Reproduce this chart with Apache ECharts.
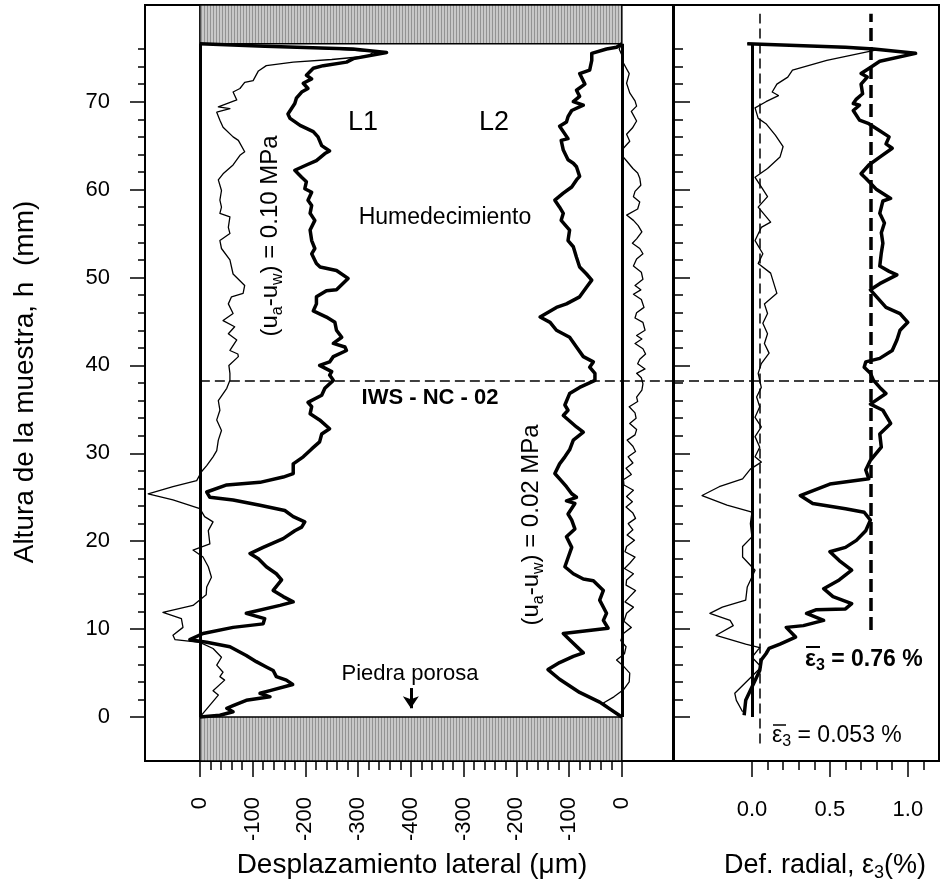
<!DOCTYPE html>
<html>
<head>
<meta charset="utf-8">
<script src="https://cdn.jsdelivr.net/npm/echarts@6/dist/echarts.min.js"></script>
<style>
  html, body { margin: 0; padding: 0; background: #fff; }
  #chart { width: 940px; height: 888px; }
</style>
</head>
<body>
<div id="chart"></div>
<script>
// lateral displacement (um) vs sample height (mm); negative = outward
const l1Thin = [
  [0, 0], [-3, 0.2], [-35, 2.5], [-25, 3.0], [-47, 4.2], [-38, 4.6], [-44, 5.1], [-32, 5.9],
  [-41, 6.8], [-25, 7.8], [0, 8.5], [47, 8.8], [51, 9.3], [32, 10.2], [35, 11.2], [70, 11.9],
  [13, 12.7], [-12, 13.9], [-13, 14.8], [-22, 15.9], [-16, 17.1], [-6, 18.2], [13, 19.0],
  [-19, 19.7], [-16, 21.2], [-25, 22.2], [-9, 22.8], [0, 23.7], [51, 24.7], [98, 25.4],
  [51, 26.2], [6, 26.9], [-3, 27.9], [-13, 28.6], [-25, 29.6], [-32, 30.3], [-35, 31.5],
  [-41, 32.6], [-32, 33.8], [-38, 34.9], [-35, 36.0], [-51, 37.4], [-57, 38.3], [-57, 39.1],
  [-55, 40.0], [-73, 41.0], [-72, 41.3], [-57, 41.7], [-70, 42.9], [-54, 43.6], [-66, 44.4],
  [-44, 45.1], [-63, 45.9], [-54, 47.0], [-60, 47.8], [-82, 48.2], [-85, 49.1], [-63, 50.4],
  [-57, 52.0], [-41, 53.3], [-38, 54.2], [-57, 55.0], [-54, 55.7], [-57, 56.9], [-38, 57.3],
  [-41, 58.0], [-38, 58.8], [-41, 59.9], [-35, 61.1], [-44, 61.8], [-63, 62.8], [-76, 63.9],
  [-85, 64.3], [-73, 65.6], [-63, 66.0], [-44, 67.1], [-38, 67.9], [-32, 68.8], [-57, 69.2],
  [-35, 69.4], [-70, 70.2], [-63, 71.1], [-76, 71.5], [-85, 72.2], [-101, 72.4], [-111, 73.5],
  [-126, 74.1], [-177, 74.5], [-250, 74.8], [-320, 75.2], [-330, 75.7], [-250, 76.0],
  [-123, 76.3], [0, 76.6]
];
const l1Thick = [
  [0, 0], [-38, 0.2], [-63, 0.6], [-51, 1.0], [-63, 1.3], [-88, 1.9], [-133, 2.3], [-114, 2.7],
  [-133, 3.0], [-176, 3.7], [-164, 4.2], [-145, 4.6], [-139, 5.3], [-126, 5.7], [-107, 6.3],
  [-88, 7.0], [-57, 8.0], [-13, 8.5], [19, 8.8], [-6, 9.5], [-63, 10.2], [-120, 10.6],
  [-123, 11.2], [-88, 11.8], [-152, 12.7], [-177, 13.1], [-158, 13.7], [-139, 14.4],
  [-155, 15.6], [-145, 16.3], [-126, 17.1], [-111, 18.0], [-95, 18.6], [-120, 19.3],
  [-158, 20.3], [-180, 21.2], [-193, 21.6], [-199, 22.2], [-177, 22.8], [-161, 23.5],
  [-114, 24.1], [-63, 24.7], [-19, 25.0], [-13, 25.6], [-51, 26.4], [-114, 26.7], [-158, 27.3],
  [-177, 27.7], [-177, 28.8], [-196, 29.6], [-212, 30.5], [-227, 31.3], [-231, 32.2],
  [-246, 32.8], [-227, 33.8], [-209, 34.5], [-212, 35.3], [-205, 35.8], [-231, 36.6],
  [-237, 37.4], [-253, 38.3], [-246, 38.9], [-250, 39.3], [-227, 40.0], [-246, 40.4],
  [-253, 41.0], [-278, 41.7], [-275, 42.1], [-253, 42.5], [-269, 43.2], [-259, 44.0],
  [-256, 44.9], [-240, 45.5], [-215, 46.2], [-221, 47.0], [-221, 47.8], [-240, 48.5],
  [-259, 48.6], [-281, 49.9], [-259, 50.8], [-228, 51.2], [-221, 51.6], [-212, 52.7],
  [-218, 53.3], [-212, 54.2], [-209, 55.4], [-218, 56.5], [-209, 57.3], [-212, 58.2],
  [-205, 58.8], [-212, 59.7], [-199, 60.1], [-202, 60.9], [-193, 61.4], [-180, 62.2],
  [-202, 62.8], [-221, 63.3], [-237, 64.1], [-246, 64.4], [-231, 65.0], [-224, 66.0],
  [-215, 66.6], [-190, 67.3], [-171, 68.1], [-167, 68.6], [-180, 69.8], [-183, 70.4],
  [-193, 71.1], [-205, 71.5], [-196, 72.1], [-212, 72.6], [-202, 73.0], [-215, 73.8],
  [-234, 74.1], [-278, 74.5], [-291, 74.9], [-354, 75.6], [-290, 76.0], [-123, 76.3], [0, 76.6]
];
const l2Thick = [
  [0, 0], [-42, 1.7], [-80, 2.8], [-118, 4.3], [-140, 5.4], [-118, 6.2], [-92, 6.9], [-73, 7.3],
  [-99, 8.8], [-111, 9.5], [-26, 10.1], [-35, 11.0], [-29, 11.8], [-42, 13.3], [-35, 14.4],
  [-54, 15.5], [-73, 15.7], [-92, 16.3], [-108, 17.1], [-95, 19.3], [-105, 20.5], [-89, 21.4],
  [-95, 22.4], [-102, 23.1], [-89, 24.3], [-105, 24.6], [-86, 25.0], [-95, 25.4], [-105, 26.2],
  [-115, 26.9], [-127, 27.7], [-118, 28.8], [-108, 29.6], [-99, 30.4], [-92, 31.5], [-73, 32.4],
  [-86, 33.0], [-111, 34.3], [-102, 34.9], [-108, 35.5], [-99, 36.8], [-80, 37.5], [-51, 38.3],
  [-48, 38.5], [-51, 39.1], [-61, 39.8], [-54, 40.4], [-73, 41.0], [-86, 42.1], [-99, 43.2],
  [-124, 44.0], [-136, 44.9], [-155, 45.5], [-124, 46.6], [-105, 47.0], [-80, 47.8], [-67, 48.9],
  [-57, 49.7], [-67, 50.4], [-80, 51.2], [-86, 52.3], [-92, 53.5], [-102, 54.2], [-99, 55.4],
  [-115, 56.5], [-111, 57.3], [-118, 58.0], [-127, 58.8], [-111, 59.6], [-95, 60.3], [-86, 61.1],
  [-80, 61.5], [-86, 62.6], [-92, 63.0], [-102, 63.4], [-111, 64.5], [-115, 65.6], [-102, 65.8],
  [-118, 67.2], [-105, 67.7], [-102, 68.3], [-95, 69.0], [-73, 69.6], [-92, 70.0], [-80, 70.6],
  [-86, 71.3], [-70, 72.0], [-80, 73.2], [-61, 73.6], [-57, 74.7], [-57, 75.5], [-29, 76.0],
  [-10, 76.2], [0, 76.6]
];
const l2Thin = [
  [0, 0], [-20, 0.8], [-35, 1.6], [-15, 2.3], [3, 3.1], [14, 4.0], [15, 5.0], [3, 5.8], [-10, 6.5],
  [5, 7.2], [8, 8.0], [-2, 8.7], [3, 9.5], [18, 10.2], [4, 10.9], [9, 11.8], [22, 12.5], [6, 13.1],
  [15, 13.7], [26, 14.4], [8, 15.0], [9, 15.6], [22, 16.3], [5, 16.9], [15, 17.5], [25, 18.2],
  [6, 18.8], [9, 19.4], [24, 20.1], [10, 20.7], [21, 21.3], [12, 22.0], [26, 22.6], [21, 23.2],
  [8, 23.9], [20, 24.5], [9, 25.1], [22, 25.8], [4, 26.4], [3, 27.0], [18, 27.6], [8, 28.3],
  [21, 28.9], [12, 29.6], [26, 30.2], [21, 30.8], [10, 31.5], [25, 32.1], [28, 32.7], [15, 33.4],
  [27, 34.0], [25, 34.6], [14, 35.3], [30, 35.9], [28, 36.4], [38, 37.2], [40, 37.9], [37, 38.6],
  [28, 39.1], [44, 39.6], [30, 40.2], [34, 40.7], [45, 41.3], [40, 41.9], [25, 42.5], [38, 43.0],
  [28, 43.4], [44, 44.0], [40, 44.9], [25, 45.4], [28, 46.0], [42, 46.6], [37, 47.5], [22, 48.1],
  [36, 48.6], [25, 49.1], [40, 49.8], [37, 50.6], [22, 51.3], [28, 52.1], [40, 52.7], [34, 53.3],
  [20, 53.9], [28, 54.4], [38, 55.2], [31, 55.9], [22, 56.5], [9, 57.1], [30, 57.8], [34, 58.6],
  [22, 59.2], [25, 59.8], [36, 60.5], [34, 61.3], [30, 61.9], [21, 62.4], [10, 63.2], [0, 63.9],
  [3, 64.7], [15, 65.5], [9, 66.3], [20, 67.0], [28, 67.8], [18, 68.9], [28, 69.5], [25, 70.1],
  [15, 71.0], [9, 72.1], [14, 73.2], [3, 74.4], [0, 75.3], [-5, 76.0], [0, 76.6]
];
// radial strain (%) vs height (mm)
const epsThick = [
  [-0.05, 0.2], [-0.04, 1.9], [0.01, 3.8], [0.05, 5.3], [0.06, 6.5], [0.09, 7.2], [0.11, 7.8],
  [0.18, 8.3], [0.28, 9.1], [0.22, 10.2], [0.33, 10.4], [0.46, 11.0], [0.35, 11.8], [0.41, 12.2],
  [0.60, 12.3], [0.64, 12.9], [0.52, 13.7], [0.46, 14.6], [0.56, 15.6], [0.64, 16.7], [0.56, 17.8],
  [0.50, 18.8], [0.60, 19.3], [0.67, 20.1], [0.73, 21.2], [0.76, 22.4], [0.72, 23.3], [0.60, 23.7],
  [0.39, 24.3], [0.31, 25.2], [0.50, 26.5], [0.75, 27.1], [0.73, 28.1], [0.76, 29.2], [0.83, 30.7],
  [0.82, 32.2], [0.89, 33.4], [0.84, 34.9], [0.76, 35.6], [0.86, 36.8], [0.82, 37.5], [0.78, 38.3],
  [0.76, 39.1], [0.72, 39.8], [0.73, 40.4], [0.82, 40.8], [0.90, 41.7], [0.93, 42.9], [0.95, 44.0],
  [1.00, 44.9], [0.95, 45.9], [0.86, 46.6], [0.80, 47.8], [0.76, 48.6], [0.82, 49.3], [0.93, 50.3],
  [0.88, 50.7], [0.82, 51.3], [0.83, 52.8], [0.84, 53.9], [0.83, 55.1], [0.85, 56.2], [0.82, 57.3],
  [0.84, 58.7], [0.89, 59.0], [0.80, 60.0], [0.73, 61.3], [0.70, 61.8], [0.75, 62.8], [0.82, 63.7],
  [0.90, 64.7], [0.86, 65.2], [0.88, 66.0], [0.81, 66.8], [0.75, 67.5], [0.69, 67.9], [0.65, 69.0],
  [0.69, 69.6], [0.65, 69.8], [0.67, 70.3], [0.71, 70.9], [0.70, 72.0], [0.74, 72.8], [0.70, 73.2],
  [0.76, 73.9], [0.82, 74.6], [1.05, 75.5], [0.78, 76.0], [0.60, 76.2], [-0.03, 76.6]
];
const epsThin = [
  [-0.06, 0.6], [-0.10, 1.9], [-0.11, 2.7], [0.06, 5.7], [0.00, 6.8], [0.05, 7.9], [-0.04, 8.3],
  [-0.23, 9.3], [-0.12, 10.4], [-0.14, 11.0], [-0.27, 11.8], [-0.19, 12.5], [-0.04, 13.3],
  [-0.03, 14.8], [0.02, 16.7], [-0.06, 18.2], [-0.06, 19.4], [0.00, 20.5], [-0.01, 22.0],
  [0.00, 23.3], [-0.16, 24.1], [-0.32, 25.2], [-0.21, 26.2], [-0.06, 27.1], [-0.01, 28.2],
  [0.06, 29.0], [0.02, 29.6], [0.05, 30.7], [0.02, 31.9], [0.06, 33.0], [0.02, 34.1], [0.05, 35.3],
  [0.03, 36.4], [0.06, 37.5], [0.05, 38.3], [0.04, 39.1], [0.06, 40.2], [0.11, 41.4], [0.08, 42.5],
  [0.10, 43.6], [0.07, 44.8], [0.10, 45.9], [0.08, 47.0], [0.16, 48.2], [0.12, 50.5], [0.04, 51.6],
  [0.07, 52.7], [0.02, 54.2], [0.06, 55.7], [0.12, 56.3], [0.04, 58.0], [0.10, 59.2], [0.06, 60.3],
  [0.02, 61.4], [0.10, 62.4], [0.18, 63.7], [0.20, 64.9], [0.15, 66.2], [0.09, 67.5], [0.04, 68.1],
  [0.02, 69.3], [0.09, 70.0], [0.17, 70.7], [0.13, 71.1], [0.16, 72.0], [0.23, 72.8], [0.26, 73.6],
  [0.48, 74.7], [0.80, 75.9], [0.45, 76.3], [-0.03, 76.6]
];

const SAMPLE_TOP = 76.6;     // mm
const WETTING_FRONT = 38.3;  // mm
const EPS_MEAN_THIN = 0.053;
const EPS_MEAN_THICK = 0.76;

const hTicks = [0, 10, 20, 30, 40, 50, 60, 70];
const hMinor = [2, 4, 6, 8, 12, 14, 16, 18, 22, 24, 26, 28, 32, 34, 36, 38, 42, 44, 46, 48,
  52, 54, 56, 58, 62, 64, 66, 68, 72, 74, 76];
// L1 runs 0 -> 400 from the left wall, L2 400 -> 800 towards the right wall
const dispTicks = [0, 100, 200, 300, 400, 500, 600, 700, 800];
const dispLabels = ['0', '-100', '-200', '-300', '-400', '-300', '-200', '-100', '0'];
const dispMinor = [20, 40, 60, 80, 120, 140, 160, 180, 220, 240, 260, 280, 320, 340, 360, 380,
  420, 440, 460, 480, 520, 540, 560, 580, 620, 640, 660, 680, 720, 740, 760, 780];
const epsTicks = [0, 0.5, 1.0];
const epsLabels = ['0.0', '0.5', '1.0'];
const epsMinor = [0.1, 0.2, 0.3, 0.4, 0.6, 0.7, 0.8, 0.9, 1.1];

const FONT = 'Liberation Sans, Arial, sans-serif';

const pat = document.createElement('canvas');
pat.width = 3; pat.height = 4;
const pg = pat.getContext('2d');
pg.fillStyle = '#c8c8c8'; pg.fillRect(0, 0, 3, 4);
pg.fillStyle = '#939393'; pg.fillRect(0, 0, 1, 4);

function curve(data, width, xi, yi) {
  return {
    type: 'line', xAxisIndex: xi, yAxisIndex: yi, data: data,
    symbol: 'none', silent: true, z: 3,
    lineStyle: { color: '#000', width: width, join: 'round' }
  };
}
function seg(x1, y1, x2, y2, style) {
  const a = { coord: [x1, y1] };
  if (style) a.lineStyle = Object.assign({ color: '#000' }, style);
  return [a, { coord: [x2, y2] }];
}

function tickAxis(kind, grid, min, max, values, len, opts) {
  const a = {
    type: 'value', gridIndex: grid, min: min, max: max,
    axisLine: { show: false, onZero: false },
    splitLine: { show: false },
    axisTick: { show: true, customValues: values, length: len, inside: !!opts.inside,
      lineStyle: { color: '#000', width: 1.5 } },
    axisLabel: { show: false }
  };
  a.position = kind === 'x' ? 'bottom' : 'left';
  if (opts.labels) {
    a.axisLabel = Object.assign({ show: true, customValues: values, color: '#000',
      fontSize: 22, fontFamily: FONT }, opts.labels);
  }
  return a;
}

const chart = echarts.init(document.getElementById('chart'), null, { renderer: 'canvas' });

const solid3 = { type: 'solid', width: 3 };
const dashThin = { type: [10, 5], width: 1.5 };
const dashThick = { type: [13, 6], width: 3.5 };

const leftSeries = curve(l1Thin.map(p => [-p[0], p[1]]), 1.3, 0, 0);
leftSeries.markArea = {
  silent: true,
  itemStyle: { color: { image: pat, repeat: 'repeat' }, borderColor: '#000', borderWidth: 1.5 },
  data: [seg(0, SAMPLE_TOP, 800, 81), seg(0, -5, 800, 0)]
};
leftSeries.markLine = {
  silent: true, symbol: 'none', label: { show: false },
  lineStyle: { color: '#000' },
  data: [
    seg(0, 0, 0, SAMPLE_TOP, solid3),
    seg(800, 0, 800, SAMPLE_TOP, solid3),
    seg(0, WETTING_FRONT, 897, WETTING_FRONT, dashThin)
  ]
};
const arrowSeries = {
  type: 'line', xAxisIndex: 0, yAxisIndex: 0, data: [], silent: true,
  markLine: {
    silent: true, symbol: ['none', 'arrow'], symbolSize: [12, 12], label: { show: false },
    lineStyle: { color: '#000', width: 3, type: 'solid' },
    data: [seg(400, 3.3, 400, 1.0, { type: 'solid', width: 3 })]
  }
};
const epsSeries = curve(epsThin, 1.3, 2, 2);
epsSeries.markLine = {
  silent: true, symbol: 'none', label: { show: false },
  lineStyle: { color: '#000' },
  data: [
    seg(0, 0, 0, SAMPLE_TOP, solid3),
    seg(EPS_MEAN_THIN, -3, EPS_MEAN_THIN, 80, dashThin),
    seg(EPS_MEAN_THICK, 9.9, EPS_MEAN_THICK, 80, dashThick),
    seg(-0.5, WETTING_FRONT, 1.2, WETTING_FRONT, dashThin)
  ]
};

// normal tokens hang from the line top, subscript tokens sit on the line bottom
const sub = (fs, weight) => ({
  n: { fontSize: fs, fontFamily: FONT, fontWeight: weight, lineHeight: fs, verticalAlign: 'top', color: '#000' },
  s: { fontSize: Math.round(fs * 0.68), fontFamily: FONT, fontWeight: weight, lineHeight: fs + 3, verticalAlign: 'bottom', color: '#000' }
});
function txt(x, y, text, fs, opts) {
  opts = opts || {};
  return {
    type: 'text', x: x, y: y, rotation: opts.rot || 0, silent: true, z: 10,
    style: {
      text: text, fill: '#000', font: (opts.bold ? 'bold ' : '') + fs + 'px ' + FONT,
      align: opts.align || 'center', verticalAlign: 'middle',
      rich: sub(fs, opts.bold ? 'bold' : 'normal')
    }
  };
}
function bar(x1, x2, y, w) {
  return { type: 'line', silent: true, z: 10, shape: { x1: x1, y1: y, x2: x2, y2: y },
    style: { stroke: '#000', lineWidth: w } };
}

chart.setOption({
  animation: false,
  backgroundColor: '#fff',
  grid: [
    { left: 145, top: 5, width: 528, height: 756, show: true, borderColor: '#000', borderWidth: 2, backgroundColor: 'transparent' },
    { left: 674, top: 5, width: 265, height: 756, show: true, borderColor: '#000', borderWidth: 2, backgroundColor: 'transparent' }
  ],
  xAxis: [
    tickAxis('x', 0, -104, 897, dispTicks, 16, {
      labels: { rotate: 90, margin: 36, formatter: v => dispLabels[dispTicks.indexOf(v)] }
    }),
    tickAxis('x', 0, -104, 897, dispMinor, 9, {}),
    tickAxis('x', 1, -0.5, 1.2, epsTicks, 16, {
      labels: { margin: 38, formatter: v => epsLabels[epsTicks.indexOf(v)] }
    }),
    tickAxis('x', 1, -0.5, 1.2, epsMinor, 9, {})
  ],
  yAxis: [
    tickAxis('y', 0, -5, 81, hTicks, 15, { labels: { margin: 35 } }),
    tickAxis('y', 0, -5, 81, hMinor, 7, {}),
    tickAxis('y', 1, -5, 81, hTicks, 16, { inside: true }),
    tickAxis('y', 1, -5, 81, hMinor, 9, { inside: true })
  ],
  series: [
    leftSeries,
    curve(l1Thick.map(p => [-p[0], p[1]]), 3.5, 0, 0),
    curve(l2Thick.map(p => [800 + p[0], p[1]]), 3.5, 0, 0),
    curve(l2Thin.map(p => [800 + p[0], p[1]]), 1.3, 0, 0),
    arrowSeries,
    epsSeries,
    curve(epsThick, 3.5, 2, 2)
  ],
  graphic: [
    txt(25, 382, 'Altura de la muestra, h  (mm)', 28, { rot: Math.PI / 2 }),
    txt(412, 865, 'Desplazamiento lateral (\u03bcm)', 28),
    txt(825, 867, '{n|Def. radial, \u03b5}{s|3}{n|(%)}', 27),
    txt(363, 123, 'L1', 27),
    txt(494, 123, 'L2', 27),
    txt(445, 218, 'Humedecimiento', 23),
    txt(430, 398, 'IWS - NC - 02', 22, { bold: true }),
    txt(410, 674, 'Piedra porosa', 22),
    txt(272, 236, '{n|(u}{s|a}{n|-u}{s|w}{n|) = 0.10 MPa}', 24, { rot: Math.PI / 2 }),
    txt(533, 525, '{n|(u}{s|a}{n|-u}{s|w}{n|) = 0.02 MPa}', 24, { rot: Math.PI / 2 }),
    txt(805, 661, '{n|\u03b5}{s|3}{n| = 0.76 %}', 23, { bold: true, align: 'left' }),
    bar(806, 820, 647, 2),
    txt(772, 737, '{n|\u03b5}{s|3}{n| = 0.053 %}', 23, { align: 'left' }),
    bar(773, 786, 725, 1.5)
  ]
});
</script>
</body>
</html>
